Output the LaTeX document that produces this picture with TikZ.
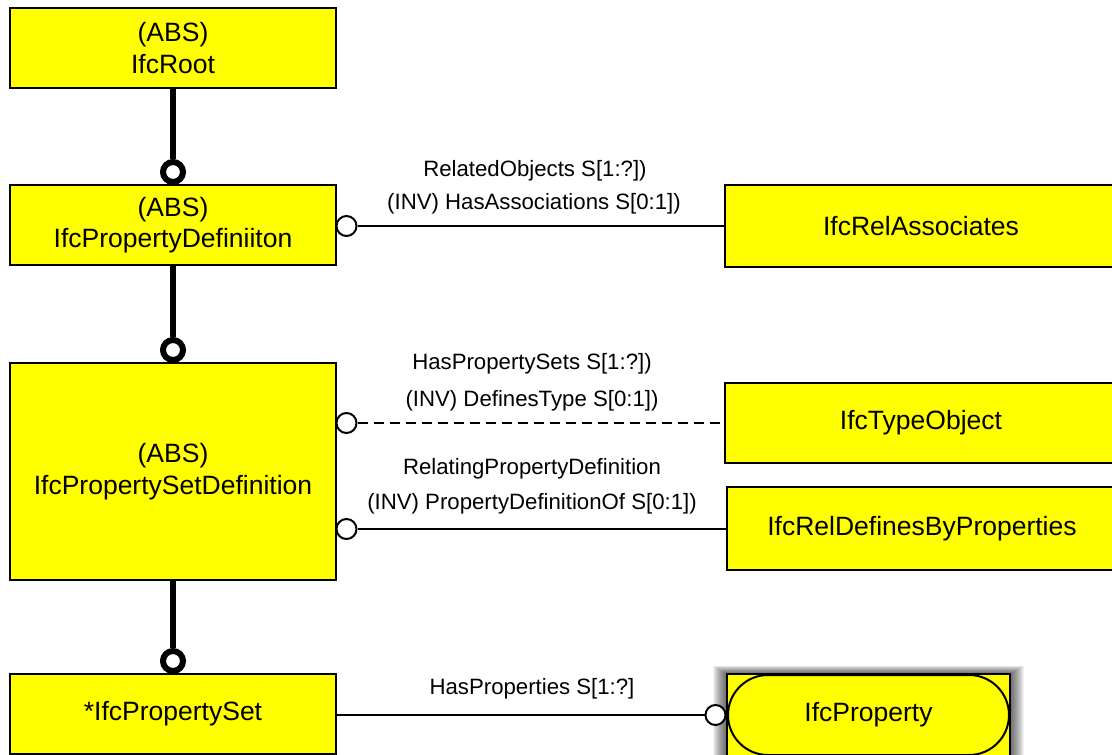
\documentclass[tikz,border=0pt]{standalone}
\usepackage{fontspec}
\setmainfont{Liberation Sans}
\definecolor{entityfill}{RGB}{255,255,0}
\tikzset{
  entity/.style={draw=black, line width=2pt, fill=entityfill, inner sep=0pt,
    font=\fontsize{26.5}{31.5}\selectfont, align=center},
  rolelabel/.style={font=\fontsize{22.2}{26}\selectfont, inner sep=0pt, anchor=center},
  superlink/.style={line width=6pt},
  superring/.style={circle, draw=black, line width=6pt, fill=white, minimum size=20pt, inner sep=0pt},
  relring/.style={circle, draw=black, line width=2pt, fill=white, minimum size=20pt, inner sep=0pt},
  rellink/.style={line width=2pt},
  optlink/.style={line width=2pt, dash pattern=on 10pt off 6pt},
  softshadow/.style={fill=black, opacity=0.055},
}
\begin{document}
\begin{tikzpicture}[x=1pt, y=-1pt]
\clip (0,0) rectangle (1112,755);
\fill[white] (0,0) rectangle (1112,755);

% entities on the left column
\node[entity, minimum width=326pt, minimum height=80pt] (root) at (173,48) {(ABS)\\IfcRoot};
\node[entity, minimum width=326pt, minimum height=80pt] (pdef) at (173,225) {(ABS)\\IfcPropertyDefiniiton};
\node[entity, minimum width=326pt, minimum height=217pt] (psdef) at (173,471.5) {(ABS)\\IfcPropertySetDefinition};
\node[entity, minimum width=326pt, minimum height=80pt] (pset) at (173,714) {*IfcPropertySet};

% related entities on the right
\node[entity, minimum width=392pt, minimum height=82pt] (relassoc) at (921,226) {IfcRelAssociates};
\node[entity, minimum width=392pt, minimum height=80pt] (typeobj) at (921,423) {IfcTypeObject};
\node[entity, minimum width=390pt, minimum height=83pt] (reldef) at (922,528.5) {IfcRelDefinesByProperties};

% IfcProperty: soft shadow, frame, and the rounded entity inside it
\foreach \d in {1,...,14}
  \fill[softshadow] (727-\d, 674-0.6*\d) rectangle (1010+\d, 770);
\node[draw=black, line width=1.5pt, fill=entityfill, minimum width=283pt, minimum height=82pt,
  inner sep=0pt] (propframe) at (868.5,715) {};
\node[entity, rounded corners=40pt, minimum width=281pt, minimum height=80pt] (prop) at (868.5,715) {IfcProperty};

% subtype links
\node[superring] (r1) at (173,172) {};
\node[superring] (r2) at (173,350) {};
\node[superring] (r3) at (173,661) {};
\draw[superlink] (root.south) -- (r1.north);
\draw[superlink] (pdef.south) -- (r2.north);
\draw[superlink] (psdef.south) -- (r3.north);

% relationship links
\node[relring] (c1) at (346.5,226) {};
\node[relring] (c2) at (346.5,423) {};
\node[relring] (c3) at (346.5,529) {};
\node[relring] (c4) at (715.5,715) {};
\draw[rellink] (c1.east) -- (relassoc.west |- c1.east);
\draw[optlink] (c2.east) -- (typeobj.west |- c2.east);
\draw[rellink] (c3.east) -- (reldef.west |- c3.east);
\draw[rellink] (pset.east |- c4.west) -- (c4.west);

% role labels
\node[rolelabel] (l1a) at (535,171) {RelatedObjects S[1:?])};
\node[rolelabel] (l1b) at (534,204) {(INV) HasAssociations S[0:1])};
\node[rolelabel] (l2a) at (532,364) {HasPropertySets S[1:?])};
\node[rolelabel] (l2b) at (532,401) {(INV) DefinesType S[0:1])};
\node[rolelabel] (l3a) at (532,469) {RelatingPropertyDefinition};
\node[rolelabel] (l3b) at (532,504) {(INV) PropertyDefinitionOf S[0:1])};
\node[rolelabel] (l4) at (532,689) {HasProperties S[1:?]};
\end{tikzpicture}
\end{document}
